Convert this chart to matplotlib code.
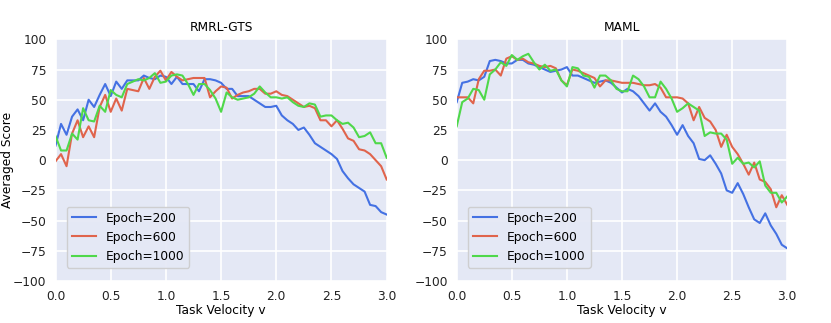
import numpy as np
import matplotlib
matplotlib.use("Agg")
import matplotlib.pyplot as plt

velocity = [round(0.05 * i, 2) for i in range(61)]

rmrl_e200 = [12, 30, 21, 36, 42, 33, 50, 44, 54, 63, 53, 65, 59, 66, 66, 66, 70, 68, 67, 70,
             69, 63, 69, 63, 63, 63, 57, 67, 67, 66, 64, 59, 59, 53, 53, 53, 50, 47, 44, 44,
             45, 37, 33, 30, 25, 27, 21, 14, 11, 8, 5, 1, -9, -15, -20, -23, -26, -37, -38, -43, -45]
rmrl_e600 = [-1, 5, -5, 22, 33, 19, 28, 19, 44, 54, 40, 51, 41, 59, 58, 57, 68, 59, 69, 74,
             66, 73, 69, 66, 67, 68, 68, 68, 52, 57, 61, 60, 51, 54, 56, 57, 59, 59, 55, 55,
             57, 54, 53, 50, 47, 44, 45, 43, 33, 33, 28, 33, 26, 18, 16, 9, 8, 5, 0, -5, -16]
rmrl_e1000 = [20, 8, 8, 22, 17, 43, 33, 32, 45, 40, 58, 54, 52, 63, 65, 67, 66, 68, 72, 64,
              65, 70, 71, 70, 63, 54, 63, 63, 58, 51, 40, 56, 52, 50, 51, 52, 55, 61, 56, 52,
              52, 51, 52, 48, 45, 44, 47, 46, 36, 37, 37, 33, 30, 31, 27, 19, 20, 23, 14, 14, 2]

maml_e200 = [48, 64, 65, 67, 66, 69, 82, 83, 82, 80, 80, 83, 83, 80, 79, 77, 75, 73, 74, 75,
             77, 70, 70, 68, 66, 64, 65, 66, 64, 60, 56, 59, 57, 53, 47, 41, 47, 40, 36, 29,
             21, 29, 20, 14, 1, 0, 4, -3, -11, -25, -27, -19, -28, -39, -49, -52, -44, -54, -61, -70, -73]
maml_e600 = [52, 52, 52, 47, 67, 74, 74, 75, 70, 84, 86, 83, 84, 81, 80, 78, 77, 78, 76, 66,
             62, 75, 74, 72, 70, 68, 61, 66, 66, 65, 64, 64, 64, 63, 62, 62, 63, 60, 52, 52,
             52, 51, 47, 33, 44, 35, 32, 25, 11, 21, 11, 5, -3, -12, -2, -16, -18, -24, -39, -29, -37]
maml_e1000 = [28, 48, 51, 59, 58, 50, 71, 75, 81, 78, 87, 83, 86, 88, 81, 75, 79, 74, 75, 66,
              61, 77, 76, 70, 69, 60, 70, 70, 66, 59, 57, 57, 70, 67, 61, 52, 52, 65, 59, 51,
              40, 43, 47, 44, 41, 20, 23, 22, 22, 17, -3, 2, -3, -2, -6, -1, -21, -27, -27, -35, -30]

titles = ["RMRL-GTS", "MAML"]
series_labels = ["Epoch=200", "Epoch=600", "Epoch=1000"]
colors = ["#4471e3", "#e0644c", "#4fd84a"]
bg = "#e4e8f5"
fs = 8.8

fig = plt.figure(figsize=(8.31, 3.23), dpi=100)
ax1 = fig.add_axes([0.0668, 0.130, 0.3985, 0.7483])
ax2 = fig.add_axes([0.5496, 0.130, 0.3978, 0.7483])

data = [[rmrl_e200, rmrl_e600, rmrl_e1000], [maml_e200, maml_e600, maml_e1000]]
for ax, title, ds in zip([ax1, ax2], titles, data):
    ax.set_facecolor(bg)
    ax.grid(True, color="white", linewidth=1.2)
    ax.set_axisbelow(True)
    for s in ax.spines.values():
        s.set_visible(False)
    for d, c, lab in zip(ds, colors, series_labels):
        ax.plot(velocity, d, color=c, linewidth=1.5, label=lab)
    ax.set_xlim(0, 3)
    ax.set_ylim(-100, 100)
    ax.set_xticks([0, 0.5, 1.0, 1.5, 2.0, 2.5, 3.0])
    ax.set_yticks([-100, -75, -50, -25, 0, 25, 50, 75, 100])
    ax.tick_params(length=0, labelsize=fs, colors="#222222", pad=6.5)
    ax.set_title(title, fontsize=fs, pad=6)
    ax.set_xlabel("Task Velocity v", fontsize=fs, labelpad=1)
    ax.legend(loc="lower left", bbox_to_anchor=(0.034, 0.055), borderaxespad=0,
              fontsize=fs, frameon=True, facecolor=bg, edgecolor="#cccccc",
              framealpha=0.9, handlelength=2.0, labelspacing=0.5)
ax1.set_ylabel("Averaged Score", fontsize=fs)
ax1.yaxis.set_label_coords(-0.125, 0.5)

fig.savefig("out.png", dpi=100)
